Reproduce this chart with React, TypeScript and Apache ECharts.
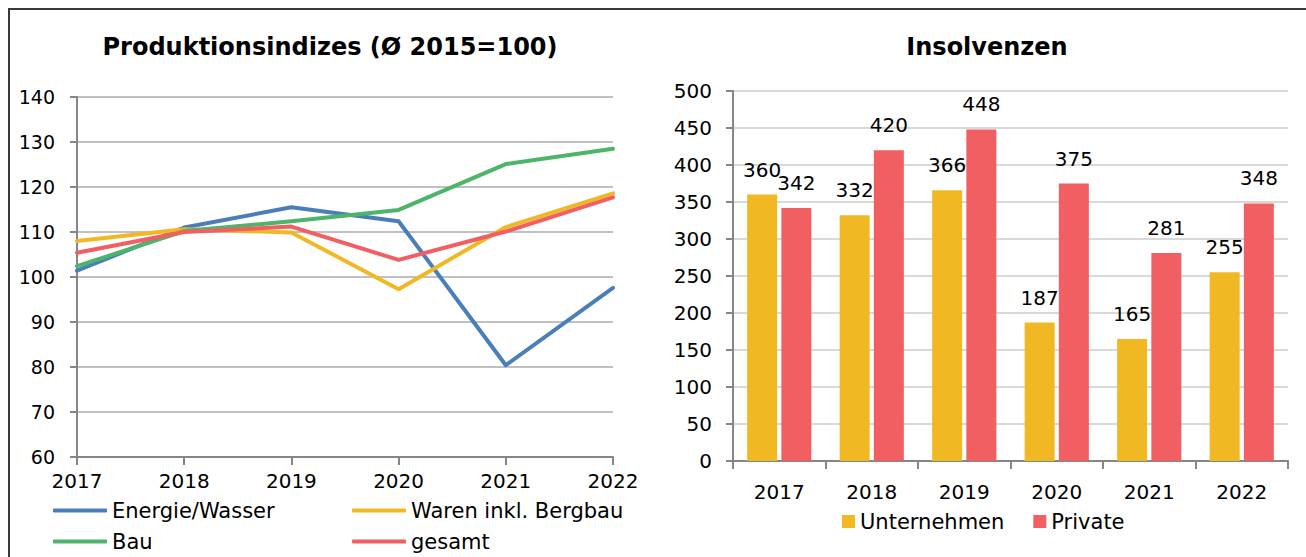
import React, { useEffect, useRef } from "react";
import * as echarts from "echarts";

const years = ["2017", "2018", "2019", "2020", "2021", "2022"];
const energieWasser = [101.4, 111.0, 115.5, 112.4, 80.4, 97.6];
const warenBergbau = [108.0, 110.6, 109.9, 97.3, 111.1, 118.6];
const bau = [102.4, 110.2, 112.4, 114.9, 125.1, 128.5];
const gesamt = [105.4, 110.0, 111.2, 103.8, 110.1, 117.7];
const unternehmen = [360, 332, 366, 187, 165, 255];
const privateIns = [342, 420, 448, 375, 281, 348];

const FONT = "DejaVu Sans";
const C_BLUE = "#4a7ebb";
const C_YELLOW = "#f0b823";
const C_GREEN = "#4db56a";
const C_RED = "#f25f62";

export default function App() {
  const ref = useRef<HTMLDivElement>(null);
  useEffect(() => {
    if (!ref.current) return;
    const chart = echarts.init(ref.current, undefined, { renderer: "svg" });
    const lineSeries = (name: string, data: number[], color: string) => ({
      name,
      type: "line",
      xAxisIndex: 0,
      yAxisIndex: 0,
      data,
      symbol: "none",
      lineStyle: { color, width: 4, cap: "round", join: "round" },
      itemStyle: { color },
    });
    const lineLegend = (name: string, left: number, top: number) => ({
      orient: "horizontal",
      left,
      top,
      itemWidth: 54,
      itemHeight: 4,
      icon: "roundRect",
      padding: 0,
      data: [name],
      textStyle: { fontFamily: FONT, fontSize: 21, color: "#000" },
    });
    chart.setOption({
      animation: false,
      backgroundColor: "#ffffff",
      textStyle: { fontFamily: FONT },
      title: [
        {
          text: "Produktionsindizes (Ø 2015=100)",
          left: 325,
          top: 30,
          textAlign: "center",
          textStyle: { fontFamily: FONT, fontSize: 24, fontWeight: "bold", color: "#000" },
        },
        {
          text: "Insolvenzen",
          left: 982,
          top: 30,
          textAlign: "center",
          textStyle: { fontFamily: FONT, fontSize: 24, fontWeight: "bold", color: "#000" },
        },
      ],
      legend: [
        lineLegend("Energie/Wasser", 53, 500),
        lineLegend("Bau", 53, 531),
        lineLegend("Waren inkl. Bergbau", 352, 500),
        lineLegend("gesamt", 352, 531),
        {
          orient: "horizontal",
          left: 842,
          top: 511,
          padding: 0,
          itemGap: 29,
          itemWidth: 13,
          itemHeight: 13,
          icon: "rect",
          data: ["Unternehmen", "Private"],
          textStyle: { fontFamily: FONT, fontSize: 21, color: "#000" },
        },
      ],
      grid: [
        { left: 77, right: 693, top: 97, bottom: 100, containLabel: false },
        { left: 733, right: 18, top: 91, bottom: 96, containLabel: false },
      ],
      xAxis: [
        {
          type: "category",
          gridIndex: 0,
          data: years,
          boundaryGap: false,
          axisLine: { lineStyle: { color: "#868686", width: 2 } },
          axisTick: { show: true, length: 8, lineStyle: { color: "#868686", width: 2 } },
          axisLabel: { fontFamily: FONT, fontSize: 20, color: "#000", margin: 14 },
          splitLine: { show: false },
        },
        {
          type: "category",
          gridIndex: 1,
          data: years,
          boundaryGap: true,
          axisLine: { lineStyle: { color: "#868686", width: 2 } },
          axisTick: { show: true, length: 8, lineStyle: { color: "#868686", width: 2 } },
          axisLabel: { fontFamily: FONT, fontSize: 20, color: "#000", margin: 21 },
          splitLine: { show: false },
        },
      ],
      yAxis: [
        {
          type: "value",
          gridIndex: 0,
          min: 60,
          max: 140,
          interval: 10,
          axisLine: { show: true, lineStyle: { color: "#868686", width: 2 } },
          axisTick: { show: true, length: 7, lineStyle: { color: "#868686", width: 2 } },
          axisLabel: { fontFamily: FONT, fontSize: 19, color: "#000", margin: 22 },
          splitLine: { show: true, lineStyle: { color: "#c0c0c0", width: 2 } },
        },
        {
          type: "value",
          gridIndex: 1,
          min: 0,
          max: 500,
          interval: 50,
          axisLine: { show: true, lineStyle: { color: "#868686", width: 2 } },
          axisTick: { show: true, length: 7, lineStyle: { color: "#868686", width: 2 } },
          axisLabel: { fontFamily: FONT, fontSize: 20, color: "#000", margin: 21 },
          splitLine: { show: true, lineStyle: { color: "#d9d9d9", width: 2 } },
        },
      ],
      series: [
        lineSeries("Energie/Wasser", energieWasser, C_BLUE),
        lineSeries("Waren inkl. Bergbau", warenBergbau, C_YELLOW),
        lineSeries("Bau", bau, C_GREEN),
        lineSeries("gesamt", gesamt, C_RED),
        {
          name: "Unternehmen",
          type: "bar",
          xAxisIndex: 1,
          yAxisIndex: 1,
          data: unternehmen,
          barWidth: 30,
          barGap: "14%",
          itemStyle: { color: C_YELLOW },
          label: {
            show: true,
            position: "top",
            distance: 15,
            fontFamily: FONT,
            fontSize: 20,
            color: "#000",
          },
        },
        {
          name: "Private",
          type: "bar",
          xAxisIndex: 1,
          yAxisIndex: 1,
          data: privateIns,
          barWidth: 30,
          barGap: "14%",
          itemStyle: { color: C_RED },
          label: {
            show: true,
            position: "top",
            distance: 15,
            fontFamily: FONT,
            fontSize: 20,
            color: "#000",
          },
        },
      ],
      graphic: [
        { type: "rect", silent: true, shape: { x: 8, y: 8, width: 1298, height: 2 }, style: { fill: "#3a3a3a" } },
        { type: "rect", silent: true, shape: { x: 8, y: 8, width: 2, height: 549 }, style: { fill: "#3a3a3a" } },
      ],
    });
    return () => chart.dispose();
  }, []);
  return (
    <div
      ref={ref}
      style={{ position: "fixed", left: 0, top: 0, width: 1306, height: 557, background: "#fff" }}
    />
  );
}
